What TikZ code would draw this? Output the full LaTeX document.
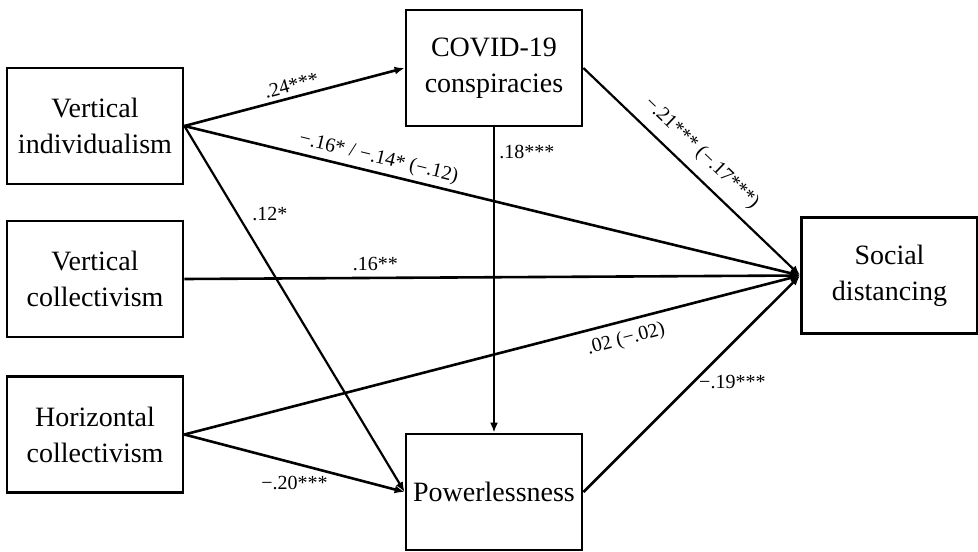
\documentclass[tikz,border=0pt]{standalone}
\usepackage{fontspec}
\setmainfont{Liberation Serif}
\usetikzlibrary{arrows.meta}

\begin{document}
\begin{tikzpicture}[x=0.5pt, y=-0.5pt,
  var/.style={draw, line width=1.4pt, minimum width=88pt, minimum height=58pt,
    inner sep=0pt, align=center, font=\fontsize{14}{18}\selectfont},
  link/.style={line width=1.3pt, -{Latex[length=5pt,width=4pt]}},
  coef/.style={font=\fontsize{10}{12}\selectfont, inner sep=2pt}]

\useasboundingbox (0,0) rectangle (978,551);

\node[var] (vi) at (95,126) {Vertical\\individualism};
\node[var] (vc) at (95,279) {Vertical\\collectivism};
\node[var] (hc) at (95,434.5) {Horizontal\\collectivism};
\node[var] (cov) at (494,68) {COVID-19\\conspiracies};
\node[var] (pow) at (494,492) {Powerlessness};
\node[var] (sd) at (889.5,275.5) {Social\\distancing};

\draw[link] (vi.east) -- (cov.west) node[coef, midway, sloped, above]{.24***};
\draw[link] (vi.east) -- (sd.west) node[coef, pos=0.31, sloped, above]{−.16* / −.14* (−.12)};
\draw[link, line width=1.1pt] (vi.east) -- (pow.west) node[coef, pos=0.24, right=5pt]{.12*};

\draw[link] (vc.east) -- (sd.west) node[coef, pos=0.31, above=1pt]{.16**};

\draw[link] (hc.east) -- (sd.west) node[coef, pos=0.71, sloped, below=2pt]{.02 (−.02)};
\draw[link] (hc.east) -- (pow.west) node[coef, midway, below=4pt]{−.20***};

\draw[link, line width=1.1pt] (cov.east) -- (sd.west) node[coef, pos=0.48, sloped, above=3pt]{−.21*** (−.17***)};
\draw[link] (cov.south) -- (pow.north) node[coef, pos=0.08, right=0pt]{.18***};

\draw[link] (pow.east) -- (sd.west) node[coef, pos=0.51, right=0pt]{−.19***};

\end{tikzpicture}
\end{document}
